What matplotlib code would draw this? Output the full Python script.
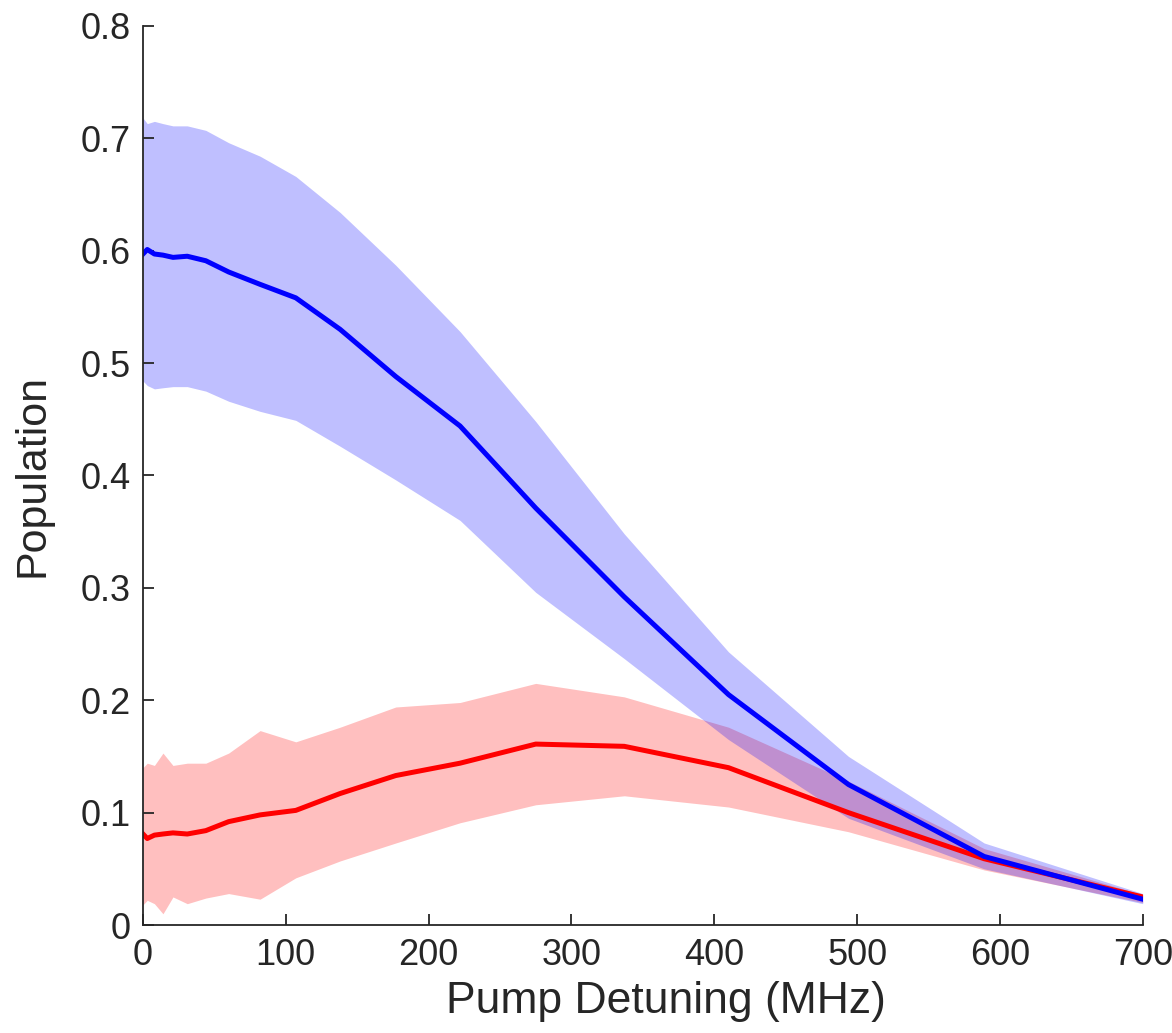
import numpy as np
import matplotlib
matplotlib.use('Agg')
import matplotlib.pyplot as plt

# pump detuning (MHz)
detuning = [0, 3, 8, 14, 21, 31, 44, 60, 82, 107, 138, 177, 222, 275, 337, 410, 494, 589, 700]

# blue population: mean and band
blue_mean = [0.597, 0.601, 0.597, 0.596, 0.594, 0.595, 0.591, 0.581, 0.570, 0.558, 0.530,
             0.488, 0.444, 0.371, 0.292, 0.205, 0.125, 0.061, 0.023]
blue_hi = [0.718, 0.713, 0.715, 0.713, 0.711, 0.711, 0.707, 0.696, 0.684, 0.666, 0.634,
           0.587, 0.528, 0.448, 0.348, 0.243, 0.150, 0.073, 0.028]
blue_lo = [0.484, 0.480, 0.477, 0.478, 0.479, 0.479, 0.475, 0.466, 0.457, 0.449, 0.426,
           0.396, 0.360, 0.296, 0.237, 0.165, 0.095, 0.050, 0.019]

# red population: mean and band
red_mean = [0.081, 0.077, 0.080, 0.081, 0.082, 0.081, 0.084, 0.092, 0.098, 0.102, 0.117,
            0.133, 0.144, 0.161, 0.159, 0.140, 0.100, 0.059, 0.025]
red_hi = [0.140, 0.144, 0.142, 0.153, 0.142, 0.144, 0.144, 0.153, 0.173, 0.163, 0.176,
          0.194, 0.198, 0.215, 0.203, 0.176, 0.128, 0.068, 0.027]
red_lo = [0.018, 0.022, 0.019, 0.010, 0.025, 0.019, 0.024, 0.028, 0.023, 0.042, 0.057,
          0.073, 0.091, 0.107, 0.115, 0.105, 0.083, 0.049, 0.020]

xticks = [0, 100, 200, 300, 400, 500, 600, 700]
yticks = [0, 0.1, 0.2, 0.3, 0.4, 0.5, 0.6, 0.7, 0.8]

plt.rcParams['font.family'] = ['Liberation Sans', 'DejaVu Sans']
txt = '#262626'

fig = plt.figure(figsize=(11.72, 10.33), dpi=100)
ax = fig.add_axes([0.122, 0.1045, 0.853, 0.8705])

ax.fill_between(detuning, red_lo, red_hi, color='red', alpha=0.25, lw=0)
ax.fill_between(detuning, blue_lo, blue_hi, color='blue', alpha=0.25, lw=0)
ax.plot(detuning, red_mean, color='red', lw=3.6, solid_joinstyle='round')
ax.plot(detuning, blue_mean, color='blue', lw=3.6, solid_joinstyle='round')

ax.set_xlim(0, 700)
ax.set_ylim(0, 0.8)
ax.set_xticks(xticks)
ax.set_yticks(yticks)
ax.set_yticklabels(['0'] + ['%.1f' % v for v in yticks[1:]])

for s in ['top', 'right']:
    ax.spines[s].set_visible(False)
for s in ['left', 'bottom']:
    ax.spines[s].set_color(txt)
    ax.spines[s].set_linewidth(1.3)

ax.tick_params(direction='in', length=8, width=1.3, color=txt, labelcolor=txt,
               labelsize=26, pad=9)
ax.set_xlabel('Pump Detuning (MHz)', fontsize=32, color=txt, labelpad=8)
ax.set_ylabel('Population', fontsize=31, color=txt, labelpad=20)
ax.xaxis.set_label_coords(0.523, -0.062)

fig.savefig('out.png', dpi=100)
